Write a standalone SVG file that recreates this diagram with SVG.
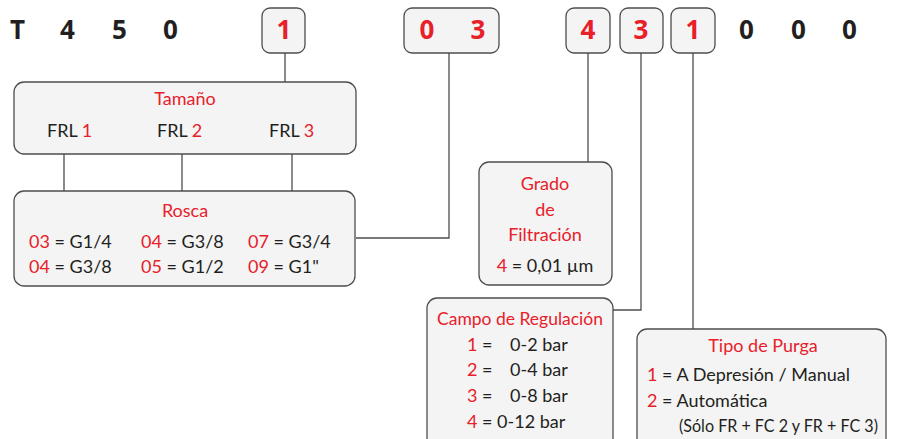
<svg xmlns="http://www.w3.org/2000/svg" width="897" height="439" viewBox="0 0 897 439">
<style>
.box{fill:#f4f4f4;stroke:#4d4d4d;stroke-width:1.3}
.ln{fill:none;stroke:#4d4d4d;stroke-width:1.3}
text{font-family:Lato,"Open Sans",sans-serif;fill:#231f20;font-size:18px}
.r{fill:#e8202a}
.big{font-family:"Open Sans",sans-serif;font-size:26px;font-weight:bold}
.c{text-anchor:middle}
</style>
<rect width="897" height="439" fill="#fff"/>
<g id="code">
<text class="big" x="10" y="39">T</text>
<text class="big" x="60" y="39">4</text>
<text class="big" x="112" y="39">5</text>
<text class="big" x="163" y="39">0</text>
<text class="big" x="739" y="39">0</text>
<text class="big" x="791" y="39">0</text>
<text class="big" x="842" y="39">0</text>
</g>
<g id="k1"><rect class="box" x="262" y="8" width="43" height="45" rx="8"/><text class="big r c" x="284" y="39">1</text></g>
<g id="k03"><rect class="box" x="404" y="8" width="95" height="45" rx="8"/><text class="big r c" x="427" y="39">0</text><text class="big r c" x="478" y="39">3</text></g>
<g id="k4"><rect class="box" x="566" y="8" width="44" height="45" rx="8"/><text class="big r c" x="588" y="39">4</text></g>
<g id="k3"><rect class="box" x="620" y="8" width="43" height="45" rx="8"/><text class="big r c" x="641" y="39">3</text></g>
<g id="k1b"><rect class="box" x="671" y="8" width="44" height="45" rx="8"/><text class="big r c" x="693" y="39">1</text></g>
<g id="connectors">
<path class="ln" d="M285 53V82"/>
<path class="ln" d="M449 53V238H356"/>
<path class="ln" d="M588 53V162"/>
<path class="ln" d="M641 53V310H613"/>
<path class="ln" d="M693 53V329"/>
<path class="ln" d="M64 154V191M182 154V191M292 154V191"/>
</g>
<g id="tamano">
<rect class="box" x="14" y="82" width="342" height="72" rx="10"/>
<text class="r c" x="185" y="105">Tamaño</text>
<text x="47" y="137">FRL <tspan class="r">1</tspan></text>
<text x="157" y="137">FRL <tspan class="r">2</tspan></text>
<text x="269" y="137">FRL <tspan class="r">3</tspan></text>
</g>
<g id="rosca">
<rect class="box" x="14" y="191" width="341" height="95" rx="10"/>
<text class="r c" x="185" y="217">Rosca</text>
<text x="29" y="248"><tspan class="r">03</tspan> = G1/4</text>
<text x="141" y="248"><tspan class="r">04</tspan> = G3/8</text>
<text x="248" y="248"><tspan class="r">07</tspan> = G3/4</text>
<text x="29" y="273"><tspan class="r">04</tspan> = G3/8</text>
<text x="141" y="273"><tspan class="r">05</tspan> = G1/2</text>
<text x="248" y="273"><tspan class="r">09</tspan> = G1"</text>
</g>
<g id="grado">
<rect class="box" x="479" y="162" width="133" height="123" rx="10"/>
<text class="r c" x="545" y="190">Grado</text>
<text class="r c" x="545" y="216">de</text>
<text class="r c" x="545" y="241">Filtración</text>
<text class="c" x="545" y="272"><tspan class="r">4</tspan> = 0,01 µm</text>
</g>
<g id="campo">
<rect class="box" x="427" y="298" width="186" height="160" rx="10"/>
<text class="r c" x="520" y="325" textLength="166" lengthAdjust="spacingAndGlyphs">Campo de Regulación</text>
<text x="467" y="351"><tspan class="r">1</tspan> =   <tspan x="510">0-2 bar</tspan></text>
<text x="467" y="376"><tspan class="r">2</tspan> =   <tspan x="510">0-4 bar</tspan></text>
<text x="467" y="402"><tspan class="r">3</tspan> =   <tspan x="510">0-8 bar</tspan></text>
<text x="467" y="428"><tspan class="r">4</tspan> = 0-12 bar</text>
</g>
<g id="tipo">
<rect class="box" x="637" y="329" width="249" height="130" rx="10"/>
<text class="r c" x="763" y="352">Tipo de Purga</text>
<text x="647" y="381"><tspan class="r">1</tspan> = A Depresión / Manual</text>
<text x="647" y="407"><tspan class="r">2</tspan> = Automática</text>
<text x="679" y="432" textLength="199" lengthAdjust="spacingAndGlyphs">(Sólo FR + FC 2 y FR + FC 3)</text>
</g>
</svg>
